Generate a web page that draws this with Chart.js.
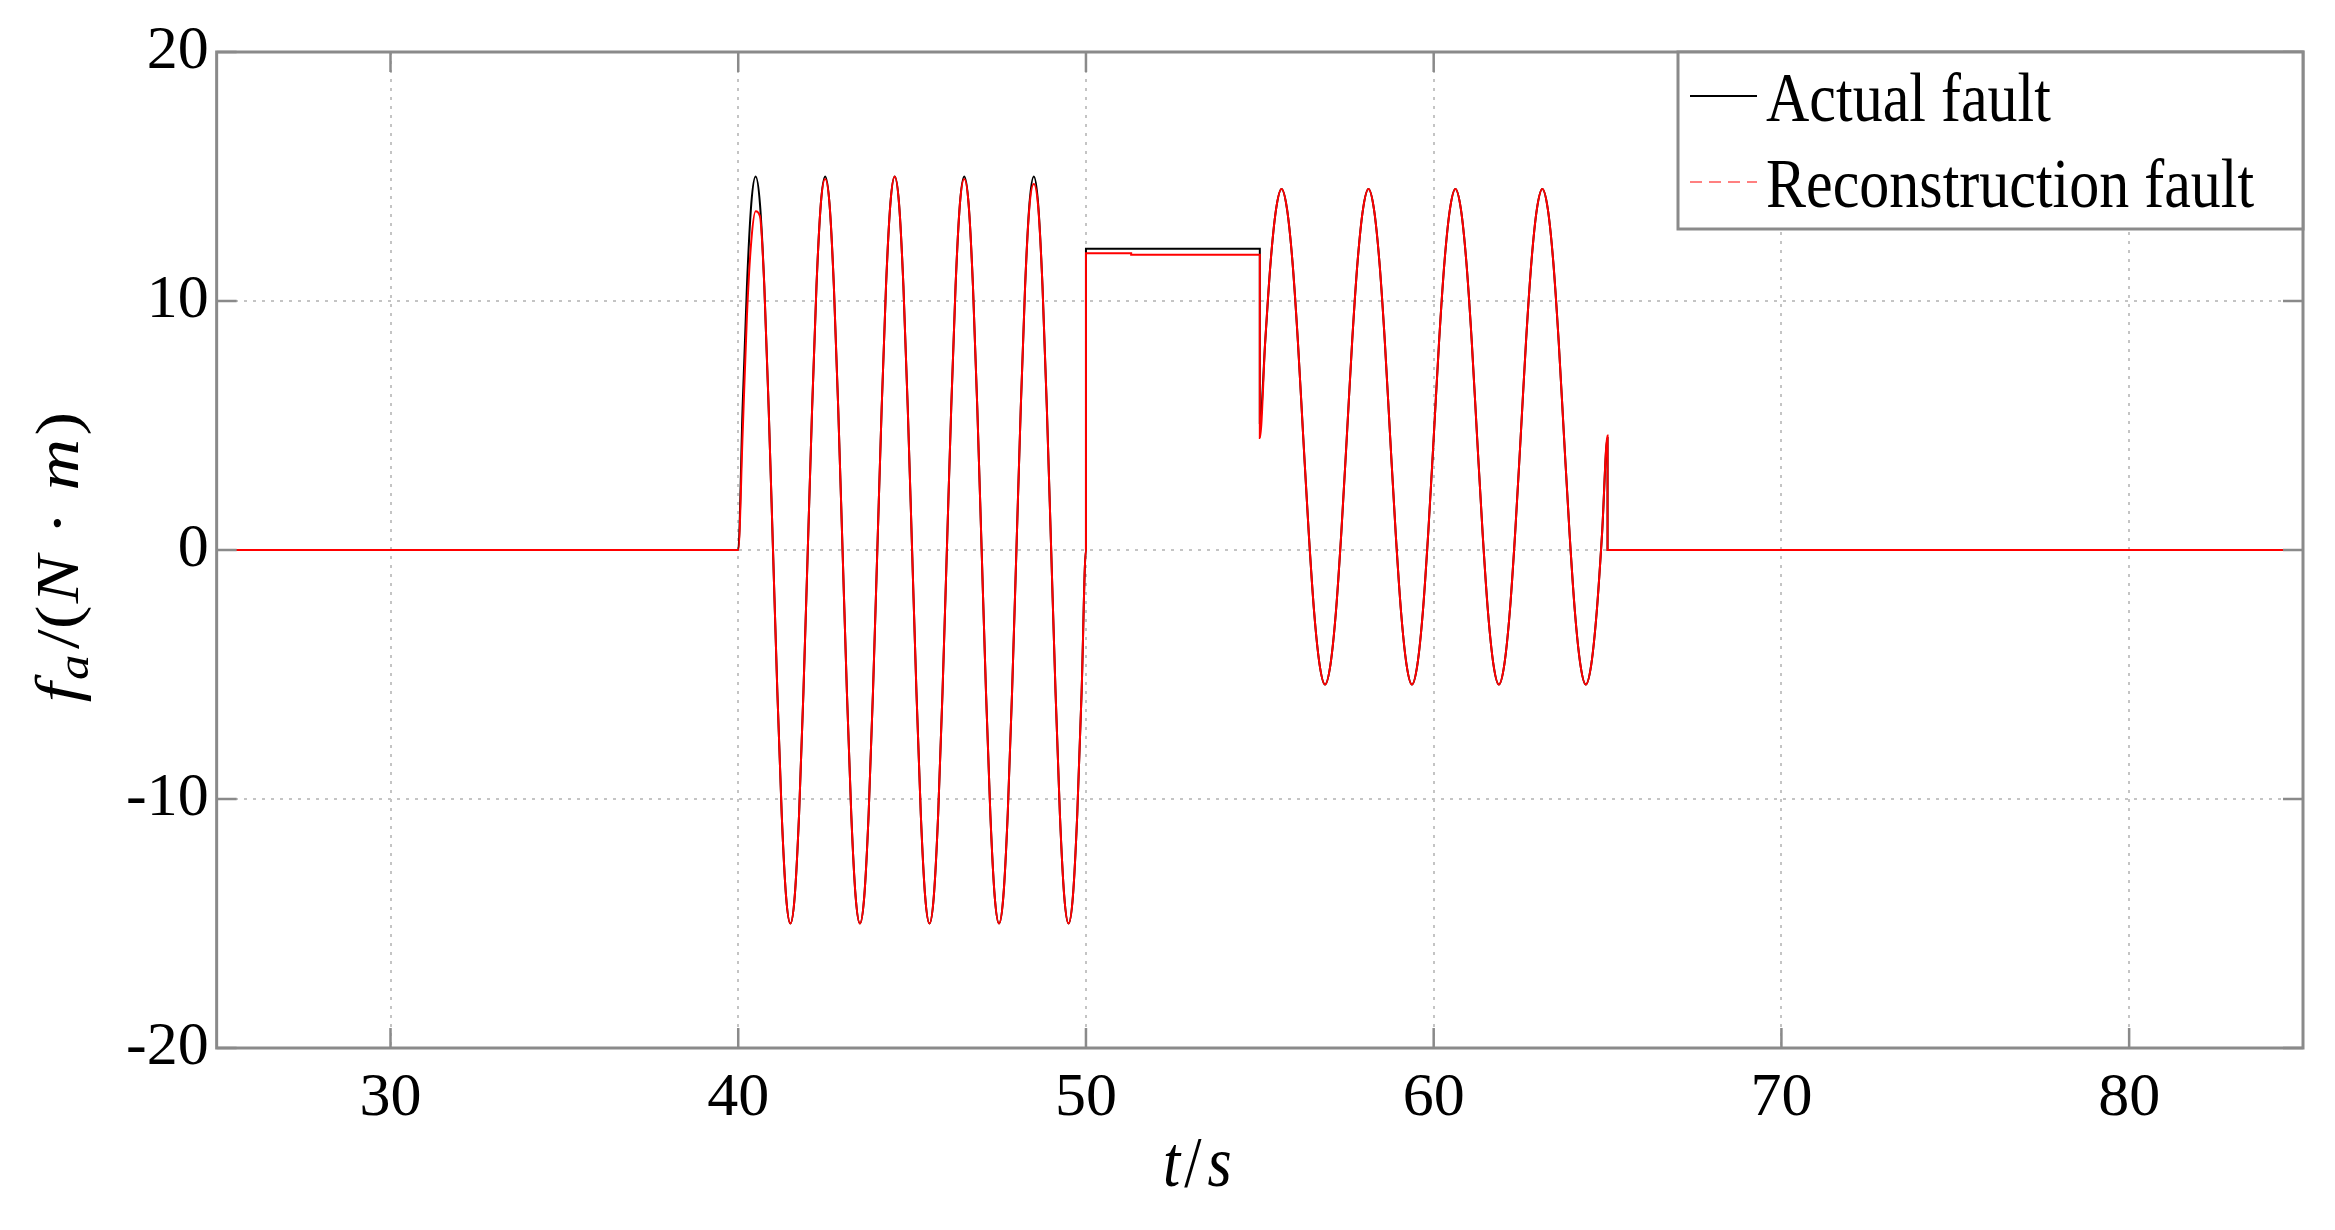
<!DOCTYPE html>
<html>
<head>
<meta charset="utf-8">
<script src="https://cdn.jsdelivr.net/npm/chart.js@4.4.1/dist/chart.umd.min.js"></script>
<style>
html, body { margin: 0; padding: 0; background: #fff; }
canvas { display: block; }
</style>
</head>
<body>
<canvas id="faultChart" width="2335" height="1230"></canvas>
<script>
var seriesLabels = ['Actual fault', 'Reconstruction fault'];
var xTicks = [30, 40, 50, 60, 70, 80];
var yTicks = [-20, -10, 0, 10, 20];

// sampling grid of the two oscillating windows (s)
var win1Start = 40, win1Step = 0.125;
var win2Start = 55, win2Step = 0.15625;

// flat parts, [t, f]
var leadIn = [[25, 0], [40, 0]];
var tailOut = [[65, 0], [85, 0]];

// 40-50 s
var actualWin1 = [
    0, 5.7, 10.6, 13.9, 15, 13.9, 10.6, 5.7, 0, -5.7, -10.6, -13.9, -15, -13.9, -10.6, -5.7,
    0, 5.7, 10.6, 13.9, 15, 13.9, 10.6, 5.7, 0, -5.7, -10.6, -13.9, -15, -13.9, -10.6, -5.7,
    0, 5.7, 10.6, 13.9, 15, 13.9, 10.6, 5.7, 0, -5.7, -10.6, -13.9, -15, -13.9, -10.6, -5.7,
    0, 5.7, 10.6, 13.9, 15, 13.9, 10.6, 5.7, 0, -5.7, -10.6, -13.9, -15, -13.9, -10.6, -5.7,
    0, 5.7, 10.6, 13.9, 15, 13.9, 10.6, 5.7, 0, -5.7, -10.6, -13.9, -15, -13.9, -10.6, -5.7,
    0
];
var reconWin1 = [
    0, 4.6, 9.4, 12.4, 13.6, 13.4, 10.6, 5.7, 0, -5.7, -10.6, -13.9, -15, -13.9, -10.6, -5.7,
    0, 5.7, 10.6, 13.9, 14.9, 13.9, 10.6, 5.7, 0, -5.7, -10.6, -13.9, -15, -13.9, -10.6, -5.7,
    0, 5.7, 10.6, 13.9, 15, 13.9, 10.6, 5.7, 0, -5.7, -10.6, -13.9, -15, -13.9, -10.6, -5.7,
    0, 5.7, 10.6, 13.9, 14.9, 13.9, 10.6, 5.7, 0, -5.7, -10.6, -13.9, -15, -13.9, -10.6, -5.7,
    0, 5.7, 10.6, 13.8, 14.7, 13.8, 10.6, 5.7, 0, -5.7, -10.6, -13.9, -15, -13.9, -10.6, -5.7,
    0
];

// constant part 50-55 s, [t, f]
var actualHold = [[50, 12.1], [55, 12.1]];
var reconHold = [[50, 11.92], [51.3, 11.92], [51.3, 11.86], [55, 11.86]];

// 55-65 s
var actualWin2 = [
    5.1, 8.4, 11.6, 13.7, 14.5, 13.7, 11.6, 8.4, 4.5, 0.7, -2.5, -4.6, -5.4, -4.6, -2.5, 0.7,
    4.5, 8.4, 11.6, 13.7, 14.5, 13.7, 11.6, 8.4, 4.5, 0.7, -2.5, -4.6, -5.4, -4.6, -2.5, 0.7,
    4.5, 8.4, 11.6, 13.7, 14.5, 13.7, 11.6, 8.4, 4.5, 0.7, -2.5, -4.6, -5.4, -4.6, -2.5, 0.7,
    4.5, 8.4, 11.6, 13.7, 14.5, 13.7, 11.6, 8.4, 4.5, 0.7, -2.5, -4.6, -5.4, -4.6, -2.5, 0.7,
    4.5
];
var reconWin2 = [
    4.5, 8.4, 11.6, 13.7, 14.5, 13.7, 11.6, 8.4, 4.5, 0.7, -2.5, -4.6, -5.4, -4.6, -2.5, 0.7,
    4.5, 8.4, 11.6, 13.7, 14.5, 13.7, 11.6, 8.4, 4.5, 0.7, -2.5, -4.6, -5.4, -4.6, -2.5, 0.7,
    4.5, 8.4, 11.6, 13.7, 14.5, 13.7, 11.6, 8.4, 4.5, 0.7, -2.5, -4.6, -5.4, -4.6, -2.5, 0.7,
    4.5, 8.4, 11.6, 13.7, 14.5, 13.7, 11.6, 8.4, 4.5, 0.7, -2.5, -4.6, -5.4, -4.6, -2.5, 0.7,
    4.6
];

var SERIF = '"Liberation Serif", "Times New Roman", serif';
var ITAL = 'italic 62px ' + SERIF;
var UPRIGHT = '62px ' + SERIF;

function buildSeries(win1, hold, win2) {
    var pts = [];
    leadIn.forEach(function (p) { pts.push({x: p[0], y: p[1]}); });
    for (var i = 0; i < win1.length; i++) {
        pts.push({x: win1Start + i * win1Step, y: win1[i]});
    }
    hold.forEach(function (p) { pts.push({x: p[0], y: p[1]}); });
    for (var j = 0; j < win2.length; j++) {
        pts.push({x: win2Start + j * win2Step, y: win2[j]});
    }
    tailOut.forEach(function (p) { pts.push({x: p[0], y: p[1]}); });
    return pts;
}

// draw a run of text pieces (math style label) centred on 0, baseline on 0
function drawRuns(ctx, runs) {
    var total = 0;
    runs.forEach(function (r) {
        ctx.font = r.font;
        r.w = ctx.measureText(r.text).width;
        total += r.gap + r.w;
    });
    var x = -total / 2;
    ctx.fillStyle = '#000';
    ctx.textBaseline = 'alphabetic';
    ctx.textAlign = 'left';
    runs.forEach(function (r) {
        x += r.gap;
        ctx.font = r.font;
        ctx.fillText(r.text, x, r.dy);
        x += r.w;
    });
}

// axis titles, slightly stretched like the source figure
var titlePlugin = {
    id: 'axisTitles',
    afterDraw: function (chart) {
        var ctx = chart.ctx, a = chart.chartArea;
        ctx.save();
        ctx.translate(a.left + (a.right - a.left) * 0.47, a.bottom + 138);
        ctx.scale(1, 1.17);
        drawRuns(ctx, [
            {text: 't', font: ITAL, gap: 0, dy: 0},
            {text: '/', font: UPRIGHT, gap: 4, dy: 0},
            {text: 's', font: ITAL, gap: 6, dy: 0}
        ]);
        ctx.restore();

        ctx.save();
        ctx.translate(a.left - 139, (a.top + a.bottom) / 2 + 7);
        ctx.rotate(-Math.PI / 2);
        ctx.scale(1.15, 1);
        drawRuns(ctx, [
            {text: 'f', font: ITAL, gap: 0, dy: 0},
            {text: 'a', font: 'italic 44px ' + SERIF, gap: 2, dy: 10},
            {text: '/(', font: UPRIGHT, gap: 5, dy: 0},
            {text: 'N', font: ITAL, gap: 2, dy: 0},
            {text: '·', font: UPRIGHT, gap: 18, dy: 0},
            {text: 'm', font: ITAL, gap: 18, dy: 0},
            {text: ')', font: UPRIGHT, gap: 3, dy: 0}
        ]);
        ctx.restore();
    }
};

// box round the axes plus MATLAB style inward ticks
var framePlugin = {
    id: 'frame',
    afterDatasetsDraw: function (chart) {
        var ctx = chart.ctx, a = chart.chartArea;
        var xs = chart.scales.x, ys = chart.scales.y;
        var len = 20;
        ctx.save();
        ctx.strokeStyle = '#8a8a8a';
        ctx.lineWidth = 2.5;
        ctx.beginPath();
        xs.ticks.forEach(function (t) {
            var px = xs.getPixelForValue(t.value);
            ctx.moveTo(px, a.bottom); ctx.lineTo(px, a.bottom - len);
            ctx.moveTo(px, a.top); ctx.lineTo(px, a.top + len);
        });
        ys.ticks.forEach(function (t) {
            var py = ys.getPixelForValue(t.value);
            ctx.moveTo(a.left, py); ctx.lineTo(a.left + len, py);
            ctx.moveTo(a.right, py); ctx.lineTo(a.right - len, py);
        });
        ctx.stroke();
        ctx.lineWidth = 3;
        ctx.strokeRect(a.left, a.top, a.right - a.left, a.bottom - a.top);
        ctx.restore();
    }
};

// legend box in the upper right corner of the axes
var legendPlugin = {
    id: 'boxLegend',
    afterDraw: function (chart) {
        var ctx = chart.ctx, a = chart.chartArea;
        var w = 625, h = 177;
        var left = a.right - w, top = a.top;
        ctx.save();
        ctx.fillStyle = '#fff';
        ctx.fillRect(left, top, w, h);
        ctx.strokeStyle = '#8a8a8a';
        ctx.lineWidth = 3;
        ctx.strokeRect(left, top, w, h);
        chart.data.datasets.forEach(function (ds, i) {
            var lineY = top + 44 + i * 86;
            ctx.beginPath();
            ctx.strokeStyle = ds.legendColor;
            ctx.lineWidth = 2;
            ctx.setLineDash(ds.legendDash);
            ctx.moveTo(left + 12, lineY);
            ctx.lineTo(left + 79, lineY);
            ctx.stroke();
            ctx.setLineDash([]);
            ctx.save();
            ctx.translate(left + 88, top + 69 + i * 86);
            ctx.scale(1, 1.17);
            ctx.fillStyle = '#000';
            ctx.font = '60px ' + SERIF;
            ctx.textBaseline = 'alphabetic';
            ctx.fillText(ds.label, 0, 0);
            ctx.restore();
        });
        ctx.restore();
    }
};

var ctx = document.getElementById('faultChart').getContext('2d');
window.faultChart = new Chart(ctx, {
    type: 'line',
    data: {
        datasets: [{
            label: seriesLabels[0],
            data: buildSeries(actualWin1, actualHold, actualWin2),
            borderColor: '#000000',
            borderWidth: 2,
            legendColor: '#000000',
            legendDash: [],
            order: 1
        }, {
            label: seriesLabels[1],
            data: buildSeries(reconWin1, reconHold, reconWin2),
            borderColor: '#ff0000',
            borderWidth: 2,
            legendColor: '#ff8080',
            legendDash: [12, 7],
            order: 0
        }]
    },
    options: {
        responsive: false,
        animation: false,
        events: [],
        elements: {
            point: { radius: 0 },
            line: { cubicInterpolationMode: 'monotone', fill: false }
        },
        layout: {
            padding: { left: 25, right: 32, top: 52, bottom: 16 }
        },
        plugins: {
            legend: { display: false },
            tooltip: { enabled: false }
        },
        scales: {
            x: {
                type: 'linear',
                min: 25,
                max: 85,
                afterBuildTicks: function (scale) {
                    scale.ticks = xTicks.map(function (v) { return {value: v}; });
                },
                ticks: {
                    color: '#000',
                    padding: 20,
                    font: { family: SERIF, size: 62, lineHeight: 1 }
                },
                grid: { color: '#c4c4c4', lineWidth: 2, drawTicks: false },
                border: { display: false, dash: [3, 6] },
                // keeps the room, the visible title is drawn by titlePlugin
                title: {
                    display: true,
                    text: 't/s',
                    color: 'rgba(0,0,0,0)',
                    padding: { top: 2, bottom: 0 },
                    font: { family: SERIF, size: 62, style: 'italic', lineHeight: 1 }
                }
            },
            y: {
                type: 'linear',
                min: -20,
                max: 20,
                afterBuildTicks: function (scale) {
                    scale.ticks = yTicks.map(function (v) { return {value: v}; });
                },
                ticks: {
                    color: '#000',
                    padding: 8,
                    font: { family: SERIF, size: 62, lineHeight: 1 }
                },
                grid: { color: '#c4c4c4', lineWidth: 2, drawTicks: false },
                border: { display: false, dash: [3, 6] },
                title: {
                    display: true,
                    text: 'f/(N · m)',
                    color: 'rgba(0,0,0,0)',
                    padding: { top: 4, bottom: 27 },
                    font: { family: SERIF, size: 62, style: 'italic', lineHeight: 1 }
                }
            }
        }
    },
    plugins: [framePlugin, legendPlugin, titlePlugin]
});
</script>
</body>
</html>
